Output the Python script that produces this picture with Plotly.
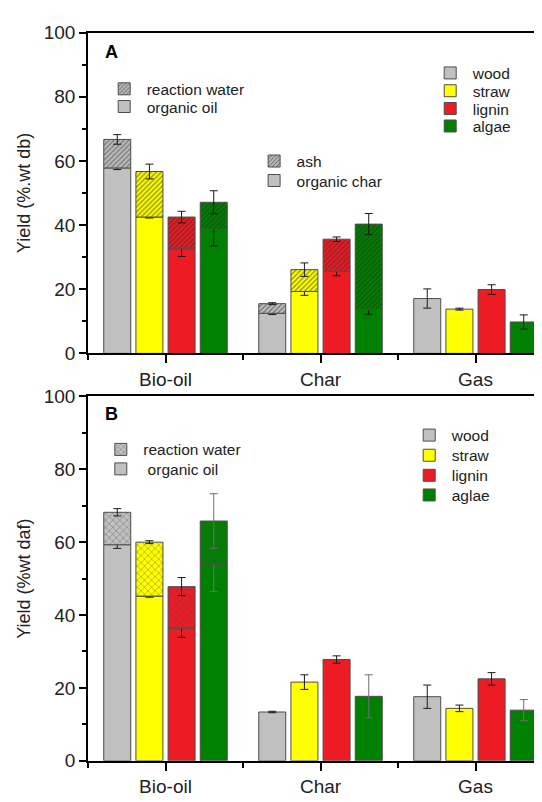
import plotly.graph_objects as go

# ---------------- data ----------------
categories = ["Bio-oil", "Char", "Gas"]
feedstocks_a = ["wood", "straw", "lignin", "algae"]
feedstocks_b = ["wood", "straw", "lignin", "aglae"]
colors = ["#C0C0C0", "#FFFF00", "#ED1C24", "#008000"]
y_tick_vals = [0, 20, 40, 60, 80, 100]

# Panel A: yield (%.wt db); lower = organic oil / organic char / gas, upper = reaction water / ash
a_wood_lower = [57.8, 12.5, 17.1]
a_straw_lower = [42.5, 19.3, 13.8]
a_lignin_lower = [32.6, 25.6, 19.9]
a_algae_lower = [38.7, 13.7, 9.8]
a_wood_upper = [8.9, 3.0, None]
a_straw_upper = [14.2, 6.8, None]
a_lignin_upper = [9.9, 10.0, None]
a_algae_upper = [8.4, 26.6, None]
a_wood_err_lower = [0.5, 0.4, 3.0]
a_straw_err_lower = [0.3, 1.2, 0.3]
a_lignin_err_lower = [2.4, 1.4, 1.5]
a_algae_err_lower = [5.2, 1.5, 2.2]
a_wood_err_upper = [1.5, 0.3, None]
a_straw_err_upper = [2.3, 2.1, None]
a_lignin_err_upper = [1.8, 0.7, None]
a_algae_err_upper = [3.6, 3.3, None]

# Panel B: yield (%wt daf)
b_wood_lower = [59.3, 13.4, 17.6]
b_straw_lower = [45.2, 21.6, 14.4]
b_lignin_lower = [36.4, 27.8, 22.5]
b_aglae_lower = [54.0, 17.7, 13.9]
b_wood_upper = [8.9, None, None]
b_straw_upper = [14.8, None, None]
b_lignin_upper = [11.4, None, None]
b_aglae_upper = [11.8, None, None]
b_wood_err_lower = [1.0, 0.2, 3.2]
b_straw_err_lower = [0.3, 2.0, 0.9]
b_lignin_err_lower = [2.5, 1.0, 1.7]
b_aglae_err_lower = [7.5, 5.9, 2.9]
b_wood_err_upper = [1.0, None, None]
b_straw_err_upper = [0.4, None, None]
b_lignin_err_upper = [2.5, None, None]
b_aglae_err_upper = [7.5, None, None]

a_lower = [a_wood_lower, a_straw_lower, a_lignin_lower, a_algae_lower]
a_upper = [a_wood_upper, a_straw_upper, a_lignin_upper, a_algae_upper]
a_err_lower = [a_wood_err_lower, a_straw_err_lower, a_lignin_err_lower, a_algae_err_lower]
a_err_upper = [a_wood_err_upper, a_straw_err_upper, a_lignin_err_upper, a_algae_err_upper]
b_lower = [b_wood_lower, b_straw_lower, b_lignin_lower, b_aglae_lower]
b_upper = [b_wood_upper, b_straw_upper, b_lignin_upper, b_aglae_upper]
b_err_lower = [b_wood_err_lower, b_straw_err_lower, b_lignin_err_lower, b_aglae_err_lower]
b_err_upper = [b_wood_err_upper, b_straw_err_upper, b_lignin_err_upper, b_aglae_err_upper]

# ---------------- style / geometry ----------------
FONT = "Liberation Sans, Arial, sans-serif"
TEXT = "#222222"
OUTLINE = "#4d4d4d"
OFF = 8                      # page body margin of the html page
W, H = 542 - OFF, 802 - OFF
ML = 88 - OFF
PLOT_W = W - ML
CAT_PX = 155.0
ITEM_W = 35
ROW_C = 16.6                 # legend top -> first row centre


def px_x(px):
    return (px - OFF - ML) / PLOT_W


def px_y(py):
    return 1 - (py - OFF) / H


x_idx = list(range(len(categories)))

fig = go.Figure()


def hatch(shape, fg, size, sol):
    return dict(shape=shape, fgcolor=fg, size=size, solidity=sol, fillmode="overlay")


def add_panel(tag, xa, ya, names, lower, upper, err_lo, err_up, pat, legends, err_colors):
    for i, name in enumerate(names):
        og = f"{tag}{i}"
        fig.add_trace(go.Bar(
            x=x_idx, y=lower[i], xaxis=xa, yaxis=ya, name=name, offsetgroup=og,
            marker=dict(color=colors[i], line=dict(color=OUTLINE, width=1)),
            error_y=dict(type="data", array=err_lo[i], color=err_colors[i], thickness=1, width=4),
            legend=legends[i], showlegend=True,
        ))
        fig.add_trace(go.Bar(
            x=x_idx, y=upper[i], base=lower[i], xaxis=xa, yaxis=ya, name=name + " upper",
            offsetgroup=og,
            marker=dict(color=colors[i], line=dict(color=OUTLINE, width=1), pattern=pat),
            error_y=dict(type="data", array=err_up[i], color=err_colors[i], thickness=1, width=4),
            showlegend=False,
        ))


pat_a = hatch("/", "#262626", 3.5, 0.38)
pat_b = hatch("x", "#4a4a4a", 5, 0.25)

add_panel("a", "x", "y", feedstocks_a, a_lower, a_upper, a_err_lower, a_err_upper, pat_a,
          ["legend", "legend2", "legend3", "legend4"], ["#1a1a1a"] * 4)
add_panel("b", "x2", "y2", feedstocks_b, b_lower, b_upper, b_err_lower, b_err_upper, pat_b,
          ["legend9", "legend10", "legend11", "legend12"],
          ["#1a1a1a", "#1a1a1a", "#1a1a1a", "#6e6e6e"])


def legend_only(name, xa, ya, og, pat, legend):
    m = dict(color=colors[0], line=dict(color=OUTLINE, width=1))
    if pat is not None:
        m["pattern"] = pat
    fig.add_trace(go.Bar(x=[None], y=[None], xaxis=xa, yaxis=ya, name=name, offsetgroup=og,
                         marker=m, legend=legend, showlegend=True, hoverinfo="skip"))


legend_only("reaction water", "x", "y", "a0", pat_a, "legend5")
legend_only("organic oil", "x", "y", "a0", None, "legend6")
legend_only("ash", "x", "y", "a0", pat_a, "legend7")
legend_only("organic char", "x", "y", "a0", None, "legend8")
legend_only("reaction water", "x2", "y2", "b0", pat_b, "legend13")
legend_only("\u00a0organic oil", "x2", "y2", "b0", None, "legend14")

# ---------------- axes ----------------
x_range = [-0.5, -0.5 + PLOT_W / CAT_PX]
boundaries = [c - 0.5 for c in x_idx] + [x_idx[-1] + 0.5]


def xaxis_cfg(anchor):
    return dict(
        domain=[0, 1], anchor=anchor, range=x_range,
        tickmode="array", tickvals=x_idx, ticktext=categories,
        ticks="outside", ticklen=8, tickwidth=1.5, tickcolor="black",
        minor=dict(tickmode="array", tickvals=boundaries, ticks="outside", ticklen=5,
                   tickwidth=1.5, tickcolor="black"),
        showline=True, linewidth=1.5, linecolor="black", mirror=True,
        showgrid=False, zeroline=False, fixedrange=True,
        tickfont=dict(size=19, color=TEXT, family=FONT),
    )


def yaxis_cfg(anchor, dom, title):
    return dict(
        domain=dom, anchor=anchor, range=[0, 100],
        tickmode="array", tickvals=y_tick_vals,
        ticks="outside", ticklen=7, tickwidth=1.5, tickcolor="black",
        minor=dict(dtick=10, tick0=0, ticks="outside", ticklen=4, tickwidth=1.5, tickcolor="black"),
        showline=True, linewidth=1.5, linecolor="black",
        showgrid=False, zeroline=False, fixedrange=True,
        tickfont=dict(size=19, color=TEXT, family=FONT),
        title=dict(text=title, font=dict(size=18, color=TEXT, family=FONT), standoff=8),
    )


def legend_cfg(text_px, row_px):
    return dict(
        x=px_x(text_px - ITEM_W - 10), y=px_y(row_px - ROW_C), xanchor="left", yanchor="top",
        bgcolor="rgba(0,0,0,0)", borderwidth=0, traceorder="normal", itemwidth=ITEM_W,
        font=dict(size=15.5, color=TEXT, family=FONT), tracegroupgap=0,
    )


legend_rows = {
    # panel A: feedstock colours
    "legend": (472.7, 64.0), "legend2": (472.7, 82.3), "legend3": (472.7, 100.5),
    "legend4": (472.7, 118.5),
    # panel A: fraction keys
    "legend5": (146.7, 80.3), "legend6": (146.7, 98.5),
    "legend7": (296.6, 154.5), "legend8": (296.6, 174.5),
    # panel B: feedstock colours
    "legend9": (451.7, 436.0), "legend10": (451.7, 456.7), "legend11": (451.7, 477.3),
    "legend12": (451.7, 497.5),
    # panel B: fraction keys
    "legend13": (143.3, 450.7), "legend14": (143.3, 470.7),
}

fig.update_layout(
    width=W, height=H,
    margin=dict(l=ML, r=0, t=0, b=0),
    barmode="group", bargap=0.17, bargroupgap=0.16,
    plot_bgcolor="white", paper_bgcolor="white",
    font=dict(family=FONT, size=19, color=TEXT),
    xaxis=xaxis_cfg("y"),
    yaxis=yaxis_cfg("x", [px_y(352.5), px_y(23)], "Yield (%.wt db)"),
    xaxis2=xaxis_cfg("y2"),
    yaxis2=yaxis_cfg("x2", [px_y(771), px_y(396.7)], "Yield (%wt daf)"),
    annotations=[
        dict(text="<b>A</b>", x=px_x(103), y=px_y(43), xref="paper", yref="paper",
             xanchor="left", yanchor="middle", showarrow=False,
             font=dict(size=18, color="black", family=FONT)),
        dict(text="<b>B</b>", x=px_x(103), y=px_y(415), xref="paper", yref="paper",
             xanchor="left", yanchor="middle", showarrow=False,
             font=dict(size=18, color="black", family=FONT)),
    ],
    showlegend=True,
)
fig.update_layout({k: legend_cfg(*v) for k, v in legend_rows.items()})

fig.write_html("out.html")
